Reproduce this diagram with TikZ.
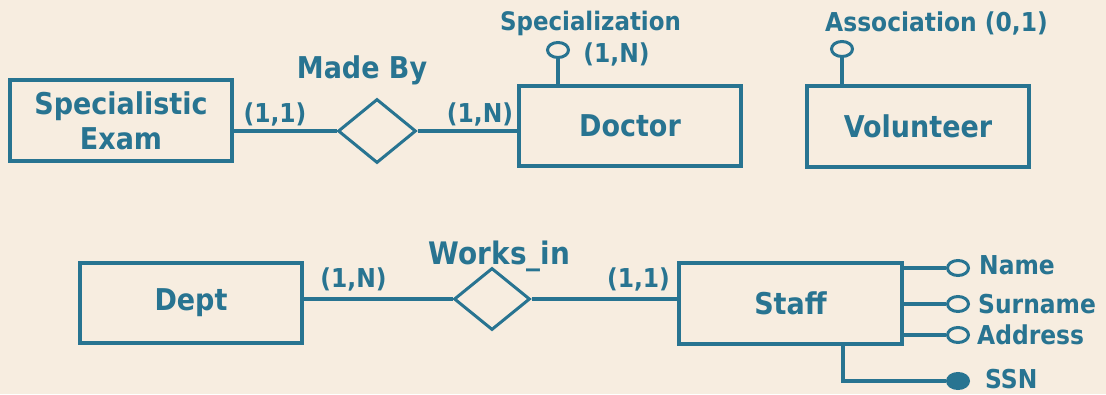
\documentclass[tikz,border=0pt]{standalone}
\usepackage{fontspec}
\setmainfont{DejaVu Sans Condensed}
\usetikzlibrary{shapes.geometric}
\definecolor{erblue}{RGB}{40,116,145}
\definecolor{paper}{RGB}{247,237,224}
\begin{document}
\begin{tikzpicture}[x=1pt,y=-1pt,
  every node/.style={text=erblue, font=\bfseries},
  entity/.style={draw=erblue, line width=3.4pt, rectangle, inner sep=0pt,
    font=\fontsize{30}{35}\selectfont\bfseries, align=center},
  relation/.style={draw=erblue, line width=3pt, diamond, inner sep=0pt},
  attr/.style={draw=erblue, line width=3pt, ellipse, inner sep=0pt,
    minimum width=21pt, minimum height=15pt},
  keyattr/.style={attr, fill=erblue},
  link/.style={draw=erblue, line width=3.2pt},
  card/.style={anchor=base, inner sep=0pt, font=\fontsize{26}{30}\selectfont\bfseries},
  rname/.style={anchor=base, inner sep=0pt, font=\fontsize{30}{35}\selectfont\bfseries},
  aname/.style={anchor=base west, inner sep=0pt, font=\fontsize{26}{30}\selectfont\bfseries},
]
\fill[paper] (0,0) rectangle (1106,394);
\useasboundingbox (0,0) rectangle (1106,394);

% entities
\node[entity, minimum width=222pt, minimum height=81pt] (exam) at (121,120.5) {Specialistic\\Exam};
\node[entity, minimum width=222pt, minimum height=80pt] (doctor) at (630,126) {Doctor};
\node[entity, minimum width=222pt, minimum height=81pt] (volunteer) at (918,126.5) {Volunteer};
\node[entity, minimum width=222pt, minimum height=80pt] (dept) at (191,303) {Dept};
\node[entity, minimum width=223pt, minimum height=81pt] (staff) at (790.5,303.5) {Staff};

% relationships
\node[relation, minimum width=78pt, minimum height=64pt] (madeby) at (377,131) {};
\node[relation, minimum width=76pt, minimum height=62pt] (worksin) at (492,299) {};
\node[rname] (madebylbl) at (362,78) {Made By};
\node[rname, font=\fontsize{31}{36}\selectfont\bfseries] (worksinlbl) at (499.5,264) {Works\_in};

% relationship links and cardinalities
\draw[link] (madeby.west) -- (madeby.west -| exam.east);
\draw[link] (madeby.east) -- (madeby.east -| doctor.west);
\draw[link] (worksin.west) -- (worksin.west -| dept.east);
\draw[link] (worksin.east) -- (worksin.east -| staff.west);
\node[card] (c1) at (275,122) {(1,1)};
\node[card] (c2) at (480,122) {(1,N)};
\node[card] (c3) at (353.5,287) {(1,N)};
\node[card] (c4) at (638.5,287) {(1,1)};

% generalisation markers above Doctor and Volunteer
\node[attr] (spec) at (558,50) {};
\node[attr] (assoc) at (842,49) {};
\draw[link] (spec.south) -- (spec.south |- doctor.north);
\draw[link] (assoc.south) -- (assoc.south |- volunteer.north);
\node[anchor=base, inner sep=0pt, font=\fontsize{25.5}{30}\selectfont\bfseries] (speclbl) at (590.5,30) {Specialization};
\node[card] (speccard) at (616.5,62) {(1,N)};
\node[anchor=base, inner sep=0pt, font=\fontsize{26}{30}\selectfont\bfseries] (assoclbl) at (936.5,31) {Association (0,1)};

% Staff attributes
\node[attr] (name) at (958,268) {};
\node[attr] (surname) at (958,304) {};
\node[attr] (address) at (958,335) {};
\node[keyattr] (ssn) at (958,381) {};
\draw[link] (name.west) -- (name.west -| staff.east);
\draw[link] (surname.west) -- (surname.west -| staff.east);
\draw[link] (address.west) -- (address.west -| staff.east);
\coordinate (ssnbend) at (843,381);
\draw[link] (ssnbend |- staff.south) -- (ssnbend) -- (ssn.west);
\node[aname] (namelbl) at (979,274) {Name};
\node[aname] (surnamelbl) at (978,313) {Surname};
\node[aname] (addresslbl) at (977,344) {Address};
\node[aname] (ssnlbl) at (985,388) {SSN};
\end{tikzpicture}
\end{document}
